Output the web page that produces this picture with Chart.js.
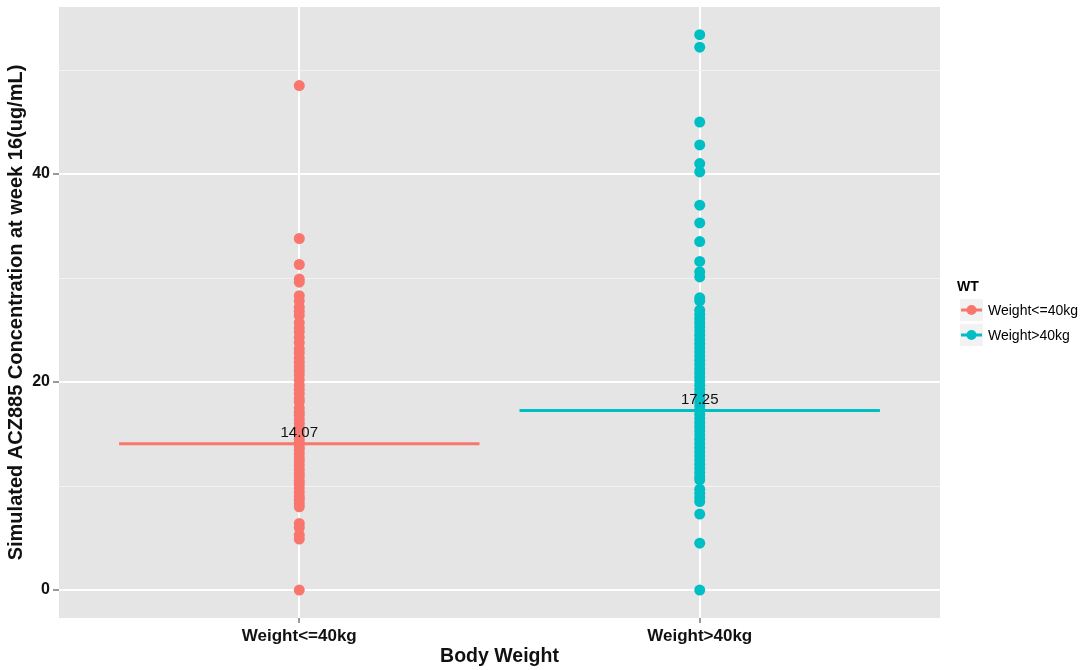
<!DOCTYPE html>
<html>
<head>
<meta charset="utf-8">
<title>ACZ885 semana 16</title>
<script src="https://cdn.jsdelivr.net/npm/chart.js@4.4.0/dist/chart.umd.min.js"></script>
<style>
    html, body { margin: 0; padding: 0; background: #ffffff; }
    #contenedor { width: 1084px; height: 670px; }
</style>
</head>
<body>
<div id="contenedor"><canvas id="graficoConc"></canvas></div>
<script>
// =========================================================================
// DATOS
// =========================================================================
const categorias = ['Weight<=40kg', 'Weight>40kg'];

// Concentración simulada (ug/mL), grupo peso <= 40kg
const concPesoBajo = [
    48.5, 33.8, 31.3, 29.9, 29.6, 28.3, 27.8, 27.2, 26.8, 26.4, 25.7, 25.2,
    24.8, 24.3, 23.8, 23.2, 22.8, 22.3, 21.9, 21.5, 21.1, 20.7, 20.2, 19.7,
    19.3, 18.9, 18.4, 18.1, 17.5, 17.1, 16.8, 16.4, 16.0, 15.6, 15.3, 14.9,
    14.5, 14.2, 13.8, 13.5, 13.1, 12.7, 12.4, 12.0, 11.6, 11.2, 10.9, 10.5,
    10.2, 9.8, 9.4, 9.0, 8.7, 8.3, 8.0, 6.4, 6.0, 5.3, 4.9, 0.0
];

// Concentración simulada (ug/mL), grupo peso > 40kg
const concPesoAlto = [
    53.4, 52.2, 45.0, 42.8, 41.0, 40.2, 37.0, 35.3, 33.5, 31.6, 30.6, 30.1,
    28.1, 27.8, 26.9, 26.5, 26.1, 25.7, 25.3, 24.9, 24.5, 24.1, 23.7, 23.3,
    22.9, 22.5, 22.1, 21.7, 21.3, 20.9, 20.5, 20.1, 19.7, 19.3, 18.9, 18.5,
    18.1, 17.7, 17.3, 16.9, 16.5, 16.1, 15.7, 15.3, 14.9, 14.5, 14.1, 13.7,
    13.3, 12.9, 12.5, 12.1, 11.7, 11.3, 10.9, 10.6, 9.7, 9.3, 8.9, 8.5,
    7.3, 4.5, 0.0
];

const medianas = [14.07, 17.25];
const ticksMayores = [0, 20, 40];
const ticksMenores = [10, 30, 50];
const colores = ['#F8766D', '#00BFC4'];

const valoresPorGrupo = [concPesoBajo, concPesoAlto];
const FUENTE = '"Liberation Sans", Arial, sans-serif';

// =========================================================================
// PLUGINS: fondo del panel, etiquetas de mediana y leyenda
// =========================================================================
const fondoPanel = {
    id: 'fondoPanel',
    beforeDraw(chart) {
        const { ctx, chartArea: a } = chart;
        ctx.save();
        ctx.fillStyle = '#E5E5E5';
        ctx.fillRect(a.left, a.top, a.right - a.left, a.bottom - a.top);
        ctx.restore();
    }
};

const etiquetasMediana = {
    id: 'etiquetasMediana',
    afterDatasetsDraw(chart) {
        const { ctx, scales } = chart;
        ctx.save();
        ctx.font = '15px ' + FUENTE;
        ctx.fillStyle = '#111111';
        ctx.textAlign = 'center';
        ctx.textBaseline = 'middle';
        medianas.forEach((m, i) => {
            const x = scales.x.getPixelForValue(i + 1);
            const y = scales.y.getPixelForValue(m) - 11;
            ctx.fillText(m.toFixed(2), x, y);
        });
        ctx.restore();
    }
};

const leyendaWT = {
    id: 'leyendaWT',
    afterDraw(chart) {
        const ctx = chart.ctx;
        ctx.save();
        ctx.textBaseline = 'middle';
        ctx.textAlign = 'left';
        ctx.fillStyle = '#000000';
        ctx.font = 'bold 14px ' + FUENTE;
        ctx.fillText('WT', 957, 287);
        categorias.forEach((cat, i) => {
            const yc = 310 + i * 25;
            ctx.fillStyle = '#F2F2F2';
            ctx.fillRect(960, yc - 11, 23, 22);
            ctx.strokeStyle = colores[i];
            ctx.lineWidth = 3;
            ctx.beginPath();
            ctx.moveTo(961, yc);
            ctx.lineTo(982, yc);
            ctx.stroke();
            ctx.fillStyle = colores[i];
            ctx.beginPath();
            ctx.arc(971.5, yc, 5, 0, Math.PI * 2);
            ctx.fill();
            ctx.fillStyle = '#000000';
            ctx.font = '14px ' + FUENTE;
            ctx.fillText(cat, 988, yc + 1);
        });
        ctx.restore();
    }
};

// =========================================================================
// DATASETS
// =========================================================================
const datasetsPuntos = categorias.map((cat, i) => ({
    label: cat,
    data: valoresPorGrupo[i].map(v => ({ x: i + 1, y: v })),
    backgroundColor: colores[i],
    borderWidth: 0,
    pointRadius: 5.5,
    pointHoverRadius: 5.5,
    order: 2
}));

const datasetsMediana = categorias.map((cat, i) => ({
    label: 'Mediana ' + cat,
    data: [{ x: i + 1 - 0.45, y: medianas[i] }, { x: i + 1 + 0.45, y: medianas[i] }],
    showLine: true,
    borderColor: colores[i],
    borderWidth: 3,
    pointRadius: 0,
    order: 1
}));

// =========================================================================
// GRÁFICO
// =========================================================================
new Chart(document.getElementById('graficoConc'), {
    type: 'scatter',
    data: { datasets: [...datasetsPuntos, ...datasetsMediana] },
    plugins: [fondoPanel, etiquetasMediana, leyendaWT],
    options: {
        responsive: true,
        maintainAspectRatio: false,
        animation: false,
        layout: { padding: { top: 7, right: 144, left: 0, bottom: 0 } },
        plugins: {
            legend: { display: false },
            tooltip: { enabled: false }
        },
        scales: {
            x: {
                type: 'linear',
                min: 0.4,
                max: 2.6,
                afterBuildTicks: (s) => { s.ticks = categorias.map((c, i) => ({ value: i + 1 })); },
                afterFit: (s) => { s.height = 52; s.paddingLeft = 0; s.paddingRight = 0; },
                border: { display: false },
                grid: { color: '#FFFFFF', lineWidth: 2, tickLength: 5, tickColor: '#333333', tickWidth: 1 },
                ticks: {
                    autoSkip: false,
                    maxRotation: 0,
                    padding: 3,
                    color: '#111111',
                    font: { family: FUENTE, size: 17, weight: 'bold' },
                    callback: (v) => categorias[v - 1] || ''
                },
                title: {
                    display: true,
                    text: 'Body Weight',
                    color: '#111111',
                    font: { family: FUENTE, size: 19.5, weight: 'bold' },
                    padding: { top: 0, bottom: 2 }
                }
            },
            y: {
                type: 'linear',
                min: -2.69,
                max: 56.06,
                afterBuildTicks: (s) => {
                    s.ticks = [...ticksMayores, ...ticksMenores].sort((a, b) => a - b).map(v => ({ value: v }));
                },
                afterFit: (s) => { s.width = 59; s.paddingTop = 0; s.paddingBottom = 0; },
                border: { display: false },
                grid: {
                    color: (c) => ticksMayores.includes(c.tick.value) ? '#FFFFFF' : '#F2F2F2',
                    lineWidth: (c) => ticksMayores.includes(c.tick.value) ? 2 : 1,
                    tickLength: 6,
                    tickColor: (c) => ticksMayores.includes(c.tick.value) ? '#333333' : 'rgba(0,0,0,0)',
                    tickWidth: 1
                },
                ticks: {
                    padding: 3,
                    color: '#111111',
                    font: { family: FUENTE, size: 16, weight: 'bold' },
                    callback: (v) => ticksMayores.includes(v) ? String(v) : ''
                },
                title: {
                    display: true,
                    text: 'Simulated ACZ885 Concentration at week 16(ug/mL)',
                    color: '#111111',
                    font: { family: FUENTE, size: 20, weight: 'bold' },
                    padding: { top: 4, bottom: 0 }
                }
            }
        }
    }
});
</script>
</body>
</html>
